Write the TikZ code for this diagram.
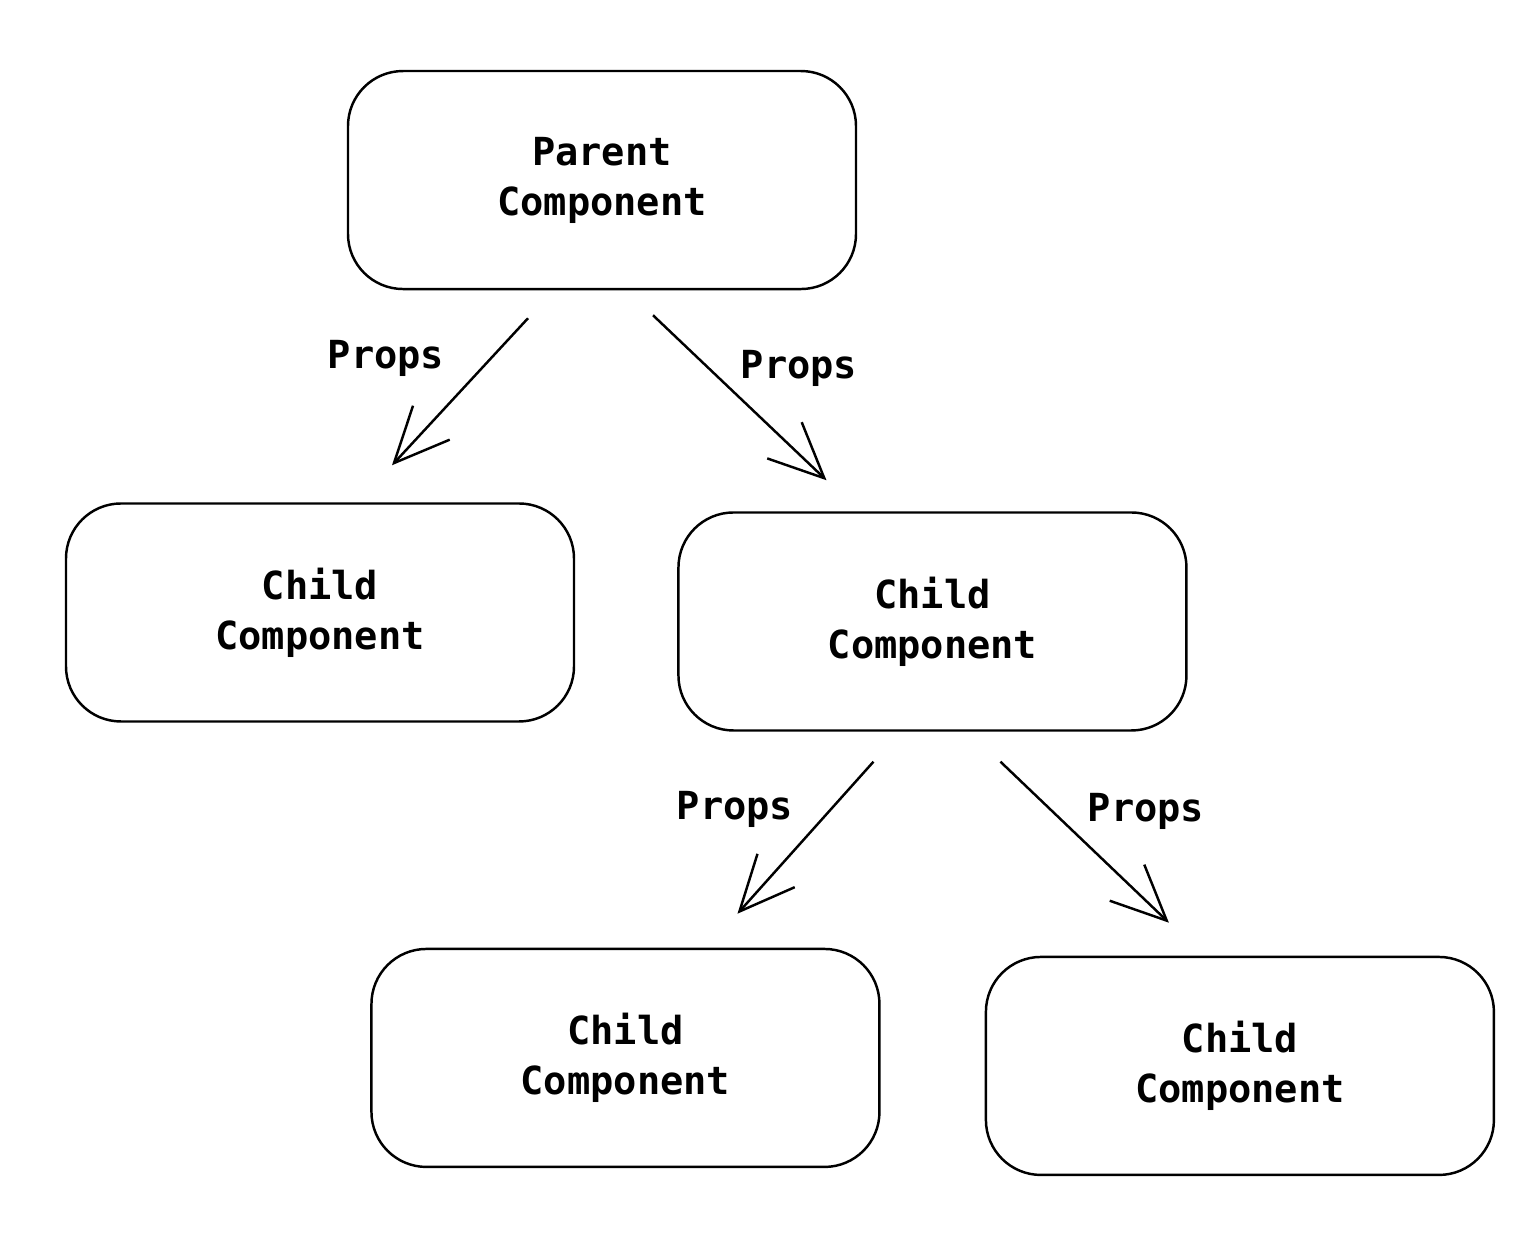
\documentclass[tikz,border=0pt]{standalone}
\usepackage{fontspec}
\setmonofont{DejaVu Sans Mono}
\usepackage{tikz}
\usetikzlibrary{arrows.meta,positioning,calc}
\tikzstyle{compbox} = [rectangle, rounded corners=0.55cm, minimum width=5.08cm, minimum height=2.18cm, text centered, align=center, draw=black, line width=0.7pt, font=\fontsize{11}{14.2}\selectfont\ttfamily\bfseries]
\tikzstyle{propsarrow} = [line width=0.7pt, -{Straight Barb[length=5.5mm, width=5mm]}]
\tikzstyle{propslabel} = [font=\fontsize{11}{14.2}\selectfont\ttfamily\bfseries]

\begin{document}
\begin{tikzpicture}
\useasboundingbox (0,0) rectangle (15.38,-12.34);
% Parent
\node[compbox] (parent) at (6.02,-1.80) {Parent\\Component};

% first row of children
\node[compbox, below=2.12cm of parent, xshift=-2.82cm] (childa) {Child\\Component};
\node[compbox, right=1.02cm of childa, yshift=-0.09cm] (childb) {Child\\Component};

% second row of children
\node[compbox, below=2.16cm of childb, xshift=-3.07cm] (childc) {Child\\Component};
\node[compbox, right=1.04cm of childc, yshift=-0.08cm] (childd) {Child\\Component};

% arrow ends
\coordinate (pa) at ($(parent.south)+(-0.74,-0.28)$);
\coordinate (pb) at ($(parent.south)+(0.51,-0.25)$);
\coordinate (ca) at ($(childa.north)+(0.72,0.37)$);
\coordinate (cb) at ($(childb.north)+(-1.06,0.31)$);
\coordinate (ba) at ($(childb.south)+(-0.59,-0.30)$);
\coordinate (bb) at ($(childb.south)+(0.68,-0.30)$);
\coordinate (cc) at ($(childc.north)+(1.12,0.34)$);
\coordinate (cd) at ($(childd.north)+(-0.71,0.33)$);

% Props
\draw[propsarrow] (pa) -- (ca);
\draw[propsarrow] (pb) -- (cb);
\draw[propsarrow] (ba) -- (cc);
\draw[propsarrow] (bb) -- (cd);
\node[propslabel] (la) at (3.86,-3.58) {Props};
\node[propslabel] (lb) at (7.99,-3.68) {Props};
\node[propslabel] (lc) at (7.35,-8.09) {Props};
\node[propslabel] (ld) at (11.46,-8.11) {Props};
\end{tikzpicture}
\end{document}
